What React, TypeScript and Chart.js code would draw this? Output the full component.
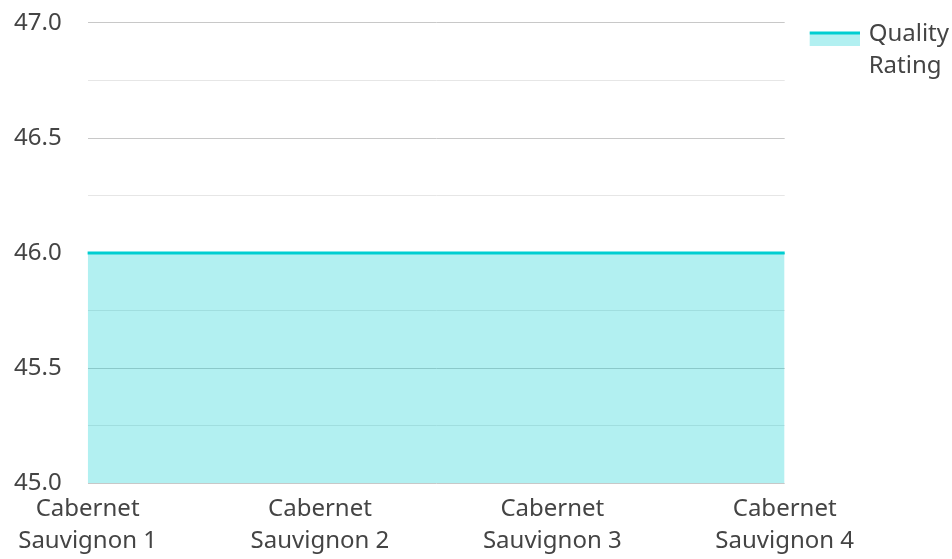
import React, { useEffect, useRef } from "react";
import { Chart, registerables } from "chart.js";

Chart.register(...registerables);

const categories: string[][] = [
  ["Cabernet", "Sauvignon 1"],
  ["Cabernet", "Sauvignon 2"],
  ["Cabernet", "Sauvignon 3"],
  ["Cabernet", "Sauvignon 4"],
];
const qualityRating: number[] = [46, 46, 46, 46];
const seriesLabel: string[] = ["Quality", "Rating"];
const yMin = 45;
const yMax = 47;
const yStep = 0.25;

const LINE = "rgb(0,206,209)";
const FILL = "rgba(0,206,209,0.3)";
const FONT = "'Noto Sans', 'Open Sans', sans-serif";
const TEXT = "#444444";
const F = { family: FONT, size: 24, lineHeight: 1.33 };

export default function App() {
  const ref = useRef<HTMLCanvasElement | null>(null);
  useEffect(() => {
    if (!ref.current) return;
    // legend swatch: light fill with a teal line on top, placed at the right/bottom of the image
    const IW = 73;
    const IH = 23;
    const icon = document.createElement("canvas");
    icon.width = IW;
    icon.height = IH;
    const ic = icon.getContext("2d")!;
    ic.fillStyle = FILL;
    ic.fillRect(IW - 50, IH - 14, 50, 14);
    ic.fillStyle = LINE;
    ic.fillRect(IW - 50, IH - 14, 50, 3);

    const chart = new Chart(ref.current, {
      type: "line",
      data: {
        labels: categories as any,
        datasets: [
          {
            label: seriesLabel.join(" "),
            data: qualityRating,
            borderColor: LINE,
            backgroundColor: FILL,
            borderWidth: 3,
            fill: "start",
            pointRadius: 0,
            tension: 0,
          },
        ],
      },
      options: {
        animation: false,
        responsive: false,
        layout: { padding: { left: 7, top: 5, right: -7, bottom: 0 } },
        font: F as any,
        color: TEXT,
        scales: {
          x: {
            offset: false,
            grid: { display: false },
            border: { display: false },
            ticks: {
              color: TEXT,
              font: F,
              maxRotation: 0,
              autoSkip: false,
              padding: 2,
            },
          },
          y: {
            min: yMin,
            max: yMax,
            border: { display: false },
            grid: {
              drawTicks: true,
              tickLength: 19,
              tickColor: "rgba(0,0,0,0)",
              color: (ctx: any) =>
                Math.abs((ctx.tick?.value ?? 0) % 0.5) < 1e-9 ? "#c8c8c8" : "#e6e6e6",
              lineWidth: 1,
            },
            ticks: {
              stepSize: yStep,
              padding: 7,
              color: TEXT,
              font: F,
              callback: (v: any) =>
                Math.abs(Number(v) % 0.5) < 1e-9 ? Number(v).toFixed(1) : "",
            },
          },
        },
        plugins: {
          tooltip: { enabled: false },
          legend: {
            position: "right",
            align: "start",
            title: {
              display: true,
              text: " ",
              font: { size: 1, lineHeight: 1 },
              padding: { top: 11, bottom: 0 },
            },
            labels: {
              color: TEXT,
              font: F,
              usePointStyle: true,
              pointStyleWidth: 67,
              boxWidth: 50,
              boxHeight: 14,
              padding: 5,
              generateLabels: () => [
                {
                  text: seriesLabel as any,
                  fillStyle: FILL,
                  strokeStyle: LINE,
                  lineWidth: 0,
                  pointStyle: icon as any,
                  hidden: false,
                  datasetIndex: 0,
                } as any,
              ],
            },
          },
        },
      },
    });
    return () => chart.destroy();
  }, []);
  return (
    <div style={{ position: "fixed", left: 0, top: 0, width: 952, height: 559, background: "#fff" }}>
      <canvas ref={ref} width={952} height={559} style={{ display: "block" }} />
    </div>
  );
}
